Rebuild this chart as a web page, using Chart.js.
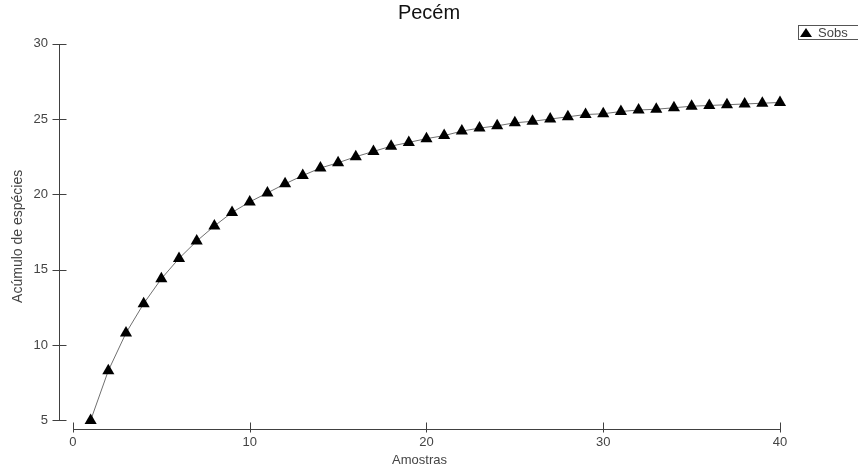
<!DOCTYPE html>
<html>
<head>
<meta charset="utf-8">
<script src="https://cdn.jsdelivr.net/npm/chart.js@4"></script>
<style>
  html, body { margin: 0; padding: 0; background: #fff; }
  #wrap { width: 858px; height: 470px; }
</style>
</head>
<body>
<div id="wrap"><canvas id="chart_sobs"></canvas></div>
<script>
(function(){
  'use strict';

  var amostras = [1,2,3,4,5,6,7,8,9,10,11,12,13,14,15,16,17,18,19,20,
                  21,22,23,24,25,26,27,28,29,30,31,32,33,34,35,36,37,38,39,40];
  var sobs = [5,8.3,10.8,12.75,14.4,15.75,16.9,17.9,18.8,19.5,
              20.1,20.7,21.25,21.75,22.1,22.5,22.85,23.2,23.45,23.7,
              23.9,24.2,24.4,24.55,24.75,24.85,25,25.15,25.3,25.35,
              25.5,25.6,25.65,25.75,25.85,25.9,25.95,26,26.05,26.1];
  var xTicks = [0,10,20,30,40];
  var yTicks = [5,10,15,20,25,30];

  var fontFam = '"Liberation Sans", Arial, sans-serif';
  var axisColor = '#404040';
  var textColor = '#444';

  // axes drawn apart from each other, like the original program does
  var axesPlugin = {
    id: 'axes',
    afterDatasetsDraw: function(chart){
      var ctx = chart.ctx, sx = chart.scales.x, sy = chart.scales.y;
      var ax = Math.round(chart.chartArea.left) + 0.5;
      var ay = Math.round(chart.chartArea.bottom) + 0.5;
      ctx.save();
      ctx.strokeStyle = axisColor;
      ctx.lineWidth = 1;
      ctx.beginPath();
      ctx.moveTo(ax, Math.round(sy.getPixelForValue(yTicks[0])));
      ctx.lineTo(ax, Math.round(sy.getPixelForValue(yTicks[yTicks.length-1])));
      yTicks.forEach(function(v){
        var p = Math.round(sy.getPixelForValue(v)) + 0.5;
        ctx.moveTo(ax - 7, p); ctx.lineTo(ax + 7, p);
      });
      ctx.moveTo(Math.round(sx.getPixelForValue(xTicks[0])), ay);
      ctx.lineTo(Math.round(sx.getPixelForValue(xTicks[xTicks.length-1])) + 1, ay);
      xTicks.forEach(function(v){
        var p = Math.round(sx.getPixelForValue(v)) + 0.5;
        ctx.moveTo(p, ay - 7); ctx.lineTo(p, ay + 3);
      });
      ctx.stroke();

      // legend box, top right
      var ds = chart.data.datasets[0];
      ctx.strokeStyle = '#555';
      ctx.strokeRect(798.5, 25.5, 70, 14);
      ctx.fillStyle = '#000';
      ctx.beginPath();
      ctx.moveTo(806, 28); ctx.lineTo(812, 37); ctx.lineTo(800, 37);
      ctx.closePath();
      ctx.fill();
      ctx.fillStyle = textColor;
      ctx.font = '13px ' + fontFam;
      ctx.textBaseline = 'middle';
      ctx.fillText(ds.label, 818, 33);
      ctx.restore();
    }
  };

  var data = {
    datasets: [{
      label: 'Sobs',
      data: amostras.map(function(a, i){ return {x: a, y: sobs[i]}; }),
      borderColor: '#707070',
      borderWidth: 1,
      pointStyle: 'triangle',
      pointRadius: 7,
      pointBackgroundColor: '#000',
      pointBorderColor: '#000',
      pointBorderWidth: 0,
      tension: 0,
      clip: false
    }]
  };

  var options = {
    responsive: true,
    maintainAspectRatio: false,
    animation: false,
    layout: { padding: 0 },
    plugins: {
      legend: { display: false },
      tooltip: { enabled: false },
      title: {
        display: true,
        text: 'Pecém',
        color: '#111',
        font: { family: fontFam, size: 20, weight: 'normal' },
        padding: { top: 1, bottom: 18.7 }
      }
    },
    scales: {
      x: {
        type: 'linear',
        min: -0.79,
        max: 40,
        grid: { display: false, drawTicks: false },
        border: { display: false },
        afterBuildTicks: function(s){ s.ticks = xTicks.map(function(v){ return {value: v}; }); },
        afterFit: function(s){ s.height = 41; },
        ticks: { color: textColor, padding: 6, font: { family: fontFam, size: 13 } },
        title: {
          display: true, text: 'Amostras', color: textColor,
          font: { family: fontFam, size: 13 }, padding: { top: 0, bottom: 2 }
        }
      },
      y: {
        min: 4.43,
        max: 30,
        grid: { display: false, drawTicks: false },
        border: { display: false },
        afterBuildTicks: function(s){ s.ticks = yTicks.map(function(v){ return {value: v}; }); },
        afterFit: function(s){ s.width = 59; },
        ticks: { color: textColor, padding: 11, font: { family: fontFam, size: 13 } },
        title: {
          display: true, text: 'Acúmulo de espécies', color: textColor,
          font: { family: fontFam, size: 14 }, padding: { top: 10, bottom: 0 }
        }
      },
      // empty right-hand strip that holds the legend box
      yRight: {
        position: 'right',
        min: 4.43,
        max: 30,
        grid: { display: false, drawTicks: false },
        border: { display: false },
        ticks: { display: false },
        afterFit: function(s){ s.width = 78; }
      }
    }
  };

  var ctx = document.getElementById('chart_sobs').getContext('2d');
  var myChart = new Chart(ctx, {
    type: 'line',
    data: data,
    options: options,
    plugins: [axesPlugin]
  });
})();
</script>
</body>
</html>
